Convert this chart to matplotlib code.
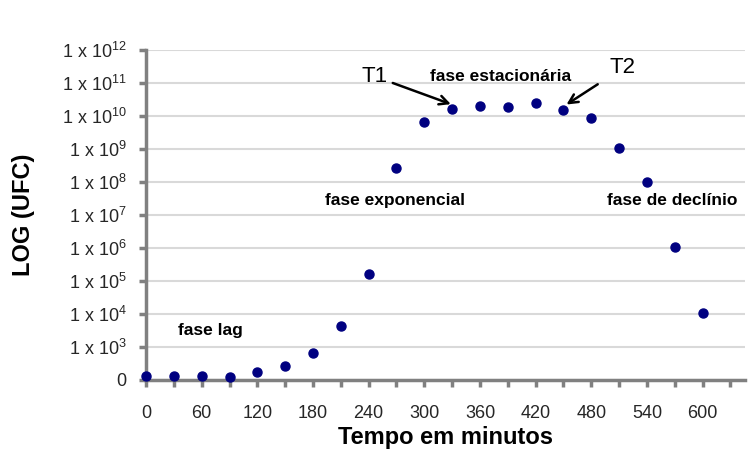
import matplotlib.pyplot as plt
import numpy as np

plt.rcParams['font.family'] = ['Liberation Sans', 'DejaVu Sans']
plt.rcParams['mathtext.default'] = 'regular'

# dados: tempo (min) e log10(UFC)
tempo = [0, 30, 60, 90, 120, 150, 180, 210, 240, 270, 300, 330, 360, 390,
         420, 450, 480, 510, 540, 570, 600]
log_ufc = [2.12, 2.12, 2.12, 2.10, 2.23, 2.42, 2.81, 3.63, 5.22, 8.42, 9.82,
           10.22, 10.31, 10.26, 10.38, 10.18, 9.92, 9.02, 8.01, 6.04, 4.02]

y_ticks = [2, 3, 4, 5, 6, 7, 8, 9, 10, 11, 12]
y_labels = ['0'] + ['1 x 10$^{%d}$' % e for e in range(3, 13)]
x_labels = [0, 60, 120, 180, 240, 300, 360, 420, 480, 540, 600]

grid_cor = '#d9d9d9'
eixo_cor = '#808080'

fig = plt.figure(figsize=(7.49, 4.49), dpi=100)
ax = fig.add_axes([0.195, 0.154, 0.800, 0.735])

ax.plot(tempo, log_ufc, 'o', color='#000080', markersize=6.5, zorder=3, clip_on=False)

ax.set_ylim(2, 12)
ax.set_xlim(0, 646)
ax.set_yticks(y_ticks)
ax.set_yticklabels(y_labels)
x_pos = np.arange(0, 646, 30)
ax.set_xticks(x_pos)
ax.set_xticklabels([str(v) if v in x_labels else '' for v in x_pos])

ax.yaxis.grid(True, color=grid_cor, linewidth=1.5)
ax.set_axisbelow(True)
for s in ['top', 'right']:
    ax.spines[s].set_visible(False)
for s in ['left', 'bottom']:
    ax.spines[s].set_color(eixo_cor)
    ax.spines[s].set_linewidth(2.5)
ax.tick_params(axis='both', colors=eixo_cor, width=2.5, length=5, labelsize=13,
               labelcolor='#262626')
ax.tick_params(axis='x', pad=13)
ax.tick_params(axis='y', pad=9)

ax.set_ylabel('LOG (UFC)', fontsize=17, fontweight='bold', labelpad=19)
ax.set_xlabel('Tempo em minutos', fontsize=17, fontweight='bold', labelpad=3)

# anotações das fases
ax.text(34, 3.5, 'fase lag', fontsize=12.5, fontweight='bold', va='center')
ax.text(193, 7.43, 'fase exponencial', fontsize=12.5, fontweight='bold', va='center')
ax.text(382, 11.2, 'fase estacionária', fontsize=12.5, fontweight='bold',
        va='center', ha='center')
ax.text(497, 7.43, 'fase de declínio', fontsize=12.5, fontweight='bold', va='center')

ax.annotate('T1', xy=(330, 10.34), xytext=(232, 11.2), fontsize=16, va='center',
            arrowprops=dict(arrowstyle='->', color='black', lw=1.8,
                            shrinkA=2, shrinkB=1))
ax.annotate('T2', xy=(452, 10.32), xytext=(500, 11.45), fontsize=16, va='center',
            arrowprops=dict(arrowstyle='->', color='black', lw=1.8,
                            shrinkA=8, shrinkB=1))

fig.savefig('out.png', dpi=100)
